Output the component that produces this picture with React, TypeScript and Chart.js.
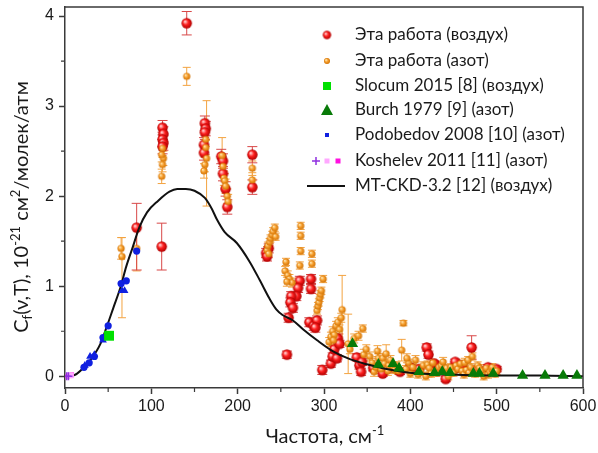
import { useEffect, useRef } from 'react';
import { Chart, registerables } from 'chart.js';
Chart.register(...registerables);

// ---------- axis ticks ----------
const xTicks = [0, 100, 200, 300, 400, 500, 600];
const xMinor = [50, 150, 250, 350, 450, 550];
const yTicks = [0, 1, 2, 3, 4];
const yMinor = [0.5, 1.5, 2.5, 3.5];

const xTitle = 'Частота, см';
const xTitleSup = '-1';

const legendLabels = [
  'Эта работа (воздух)',
  'Эта работа (азот)',
  'Slocum 2015 [8] (воздух)',
  'Burch 1979 [9] (азот)',
  'Podobedov 2008 [10] (азот)',
  'Koshelev 2011 [11] (азот)',
  'MT-CKD-3.2 [12] (воздух)',
];

// ---------- data: [frequency cm-1, Cf, error up, (error down)] ----------
const airWork: number[][] = [
  [83, 1.65, 0.27, 0.47], [112, 1.44, 0.26],
  [113, 2.76, 0.08], [114, 2.69, 0.08], [113, 2.63, 0.08], [114, 2.59, 0.08], [113, 2.55, 0.08],
  [141, 3.92, 0.13],
  [162, 2.81, 0.08], [163, 2.75, 0.08], [162, 2.71, 0.08], [161, 2.57, 0.08], [161, 2.48, 0.08],
  [181, 2.44, 0.08], [183, 2.39, 0.08], [183, 2.25, 0.08], [186, 2.08, 0.08], [188, 1.88, 0.08],
  [217, 2.46, 0.09], [217, 2.10, 0.08],
  [233, 1.37, 0.05], [234, 1.33, 0.05], [236, 1.42, 0.05],
  [257, 0.24, 0.04], [259, 0.65, 0.05],
  [272, 1.06, 0.05], [270, 0.98, 0.05], [268, 0.89, 0.05], [262, 0.89, 0.05], [261, 0.82, 0.05], [264, 0.76, 0.05],
  [285, 1.08, 0.05], [285, 0.97, 0.05],
  [283, 0.60, 0.05], [288, 0.56, 0.05], [292, 0.62, 0.05], [290, 0.54, 0.05],
  [298, 0.07, 0.05],
  [308, 0.14, 0.04], [310, 0.22, 0.04], [312, 0.30, 0.04], [316, 0.42, 0.05], [318, 0.36, 0.04], [315, 0.20, 0.04],
  [338, 0.21, 0.04], [341, 0.12, 0.04], [343, 0.05, 0.04], [344, 0.16, 0.04],
  [357, 0.09, 0.03], [368, 0.03, 0.03], [378, 0.10, 0.03], [388, 0.05, 0.03],
  [400, 0.10, 0.03], [410, 0.08, 0.03],
  [419, 0.32, 0.04], [421, 0.24, 0.04], [428, 0.14, 0.03], [432, 0.06, 0.03], [441, -0.03, 0.03],
  [452, 0.16, 0.03], [452, 0.09, 0.03], [460, 0.12, 0.03], [471, 0.32, 0.13], [478, 0.08, 0.03],
  [490, 0.10, 0.03], [500, 0.08, 0.03],
];

const nitrogenWork: number[][] = [
  [65, 1.42, 0.12], [66, 1.33, 0.21, 0.68], [83, 1.42, 0.25],
  [114, 2.42, 0.08], [113, 2.53, 0.08], [112, 2.46, 0.08], [113, 2.35, 0.08], [112, 2.22, 0.08],
  [141, 3.33, 0.10],
  [163, 2.63, 0.08], [163, 2.54, 0.08], [162, 2.35, 0.08], [161, 2.28, 0.08], [164, 2.42, 0.64, 0.53],
  [182, 2.45, 0.20], [183, 2.33, 0.08], [184, 2.20, 0.08], [185, 2.17, 0.08], [186, 2.11, 0.08], [188, 2.00, 0.08], [189, 1.94, 0.08],
  [217, 2.31, 0.08], [217, 2.18, 0.08],
  [234, 1.40, 0.04], [235, 1.45, 0.04], [237, 1.49, 0.04], [238, 1.53, 0.04], [240, 1.57, 0.04],
  [241, 1.61, 0.04], [243, 1.65, 0.04], [244, 1.55, 0.04], [236, 1.36, 0.04],
  [273, 1.67, 0.04], [273, 1.56, 0.04], [273, 1.39, 0.04],
  [256, 1.27, 0.04], [272, 1.23, 0.04], [286, 1.36, 0.04], [286, 1.25, 0.04], [299, 1.08, 0.04],
  [255, 1.17, 0.05], [258, 1.12, 0.05], [260, 1.08, 0.05], [263, 1.04, 0.05], [257, 1.05, 0.05],
  [292, 0.73, 0.04], [293, 0.78, 0.04], [294, 0.82, 0.04], [295, 0.87, 0.04], [296, 0.91, 0.04], [297, 0.95, 0.04],
  [306, 0.38, 0.05], [308, 0.44, 0.05], [310, 0.50, 0.05], [312, 0.46, 0.05], [314, 0.56, 0.05],
  [316, 0.60, 0.05], [318, 0.52, 0.05], [320, 0.65, 0.05], [311, 0.40, 0.05], [321, 0.74, 0.38],
  [328, 0.36, 0.33], [345, 0.53, 0.04], [335, 0.42, 0.05], [330, 0.30, 0.05],
  [340, 0.45, 0.05], [346, 0.24, 0.06], [349, 0.30, 0.05],
  [392, 0.59, 0.03], [390, 0.29, 0.12],
  [353, 0.22, 0.05], [356, 0.15, 0.05], [358, 0.05, 0.05], [360, 0.10, 0.05], [362, 0.28, 0.06],
  [363, 0.20, 0.05], [366, 0.08, 0.05], [368, 0.20, 0.05],
  [370, 0.14, 0.05], [374, 0.06, 0.05], [375, 0.12, 0.05], [377, 0.18, 0.05], [380, 0.11, 0.05],
  [372, 0.25, 0.10], [382, 0.07, 0.04],
  [384, 0.12, 0.04], [386, 0.06, 0.04], [395, 0.08, 0.04], [398, 0.15, 0.04], [400, 0.03, 0.04], [396, 0.20, 0.05],
  [403, 0.10, 0.04], [406, 0.18, 0.05], [409, 0.02, 0.04],
  [412, 0.05, 0.04], [415, 0.12, 0.04], [418, 0.00, 0.04], [420, 0.13, 0.04], [422, 0.09, 0.04],
  [424, 0.03, 0.04], [426, 0.15, 0.04], [430, 0.04, 0.04], [433, 0.10, 0.04],
  [436, 0.12, 0.04], [438, 0.16, 0.05], [440, 0.06, 0.04], [442, 0.09, 0.04], [444, 0.00, 0.04],
  [447, 0.10, 0.04], [450, 0.04, 0.04], [453, 0.12, 0.04],
  [455, 0.08, 0.04], [458, 0.14, 0.04], [460, 0.06, 0.04], [462, 0.02, 0.04], [463, 0.15, 0.05], [465, 0.07, 0.04],
  [467, 0.18, 0.04], [468, 0.04, 0.04], [470, 0.10, 0.04], [472, 0.22, 0.04], [475, 0.03, 0.04], [478, 0.12, 0.04],
  [480, 0.09, 0.04], [482, 0.06, 0.04], [485, 0.00, 0.04], [488, 0.09, 0.04], [490, 0.02, 0.04],
  [492, 0.05, 0.04], [494, 0.08, 0.04], [495, 0.10, 0.04],
  [498, 0.03, 0.04], [500, 0.06, 0.04],
];

const slocum: number[][] = [[51, 0.45]];

const burch: number[][] = [
  [333, 0.36], [363, 0.13], [380, 0.14], [387, 0.09], [410, 0.05], [428, 0.04], [437, 0.05],
  [446, 0.04], [473, 0.03], [480, 0.03], [496, 0.03], [530, 0.01], [556, 0.01], [577, 0.01], [593, 0.01],
];

const podobedovCircles: number[][] = [
  [22, 0.10], [28, 0.15], [34, 0.22], [44, 0.43], [50, 0.56], [65, 1.03], [71, 1.06], [83, 1.39],
];
const podobedovTriangles: number[][] = [
  [23, 0.12], [29, 0.22], [34, 0.24], [44, 0.40], [66, 0.95], [69, 0.95],
];

const koshelevPlus: number[][] = [[2, 0.0], [4, 0.0]];
const koshelevPink: number[][] = [[5, 0.01], [7, 0.01]];
const koshelevMagenta: number[][] = [[3, 0.0], [8, 0.02]];

const mtckd: number[][] = [
  [8, 0.0], [14, 0.03], [22, 0.1], [31, 0.2], [41, 0.36], [48, 0.54], [56, 0.76], [64, 0.98],
  [71, 1.22], [78, 1.42], [86, 1.65], [95, 1.82], [108, 1.95], [121, 2.05], [130, 2.08],
  [140, 2.08], [150, 2.06], [162, 1.98], [170, 1.86], [176, 1.74], [185, 1.6], [199, 1.48],
  [214, 1.27], [226, 1.06], [237, 0.86], [245, 0.74], [252, 0.68], [264, 0.62], [276, 0.52],
  [292, 0.4], [310, 0.28], [330, 0.19], [351, 0.13], [368, 0.09], [399, 0.04], [446, 0.02],
  [496, 0.01], [550, 0.01], [600, 0.0],
];

const toXY = (arr: number[][]) => arr.map((p) => ({ x: p[0], y: p[1] }));

function makeBall(r: number, hi: string, mid: string, edge: string) {
  const c = document.createElement('canvas');
  const s = Math.ceil(r * 2) + 2;
  c.width = s;
  c.height = s;
  const g = c.getContext('2d')!;
  const cx = s / 2, cy = s / 2;
  const grad = g.createRadialGradient(cx - r * 0.35, cy - r * 0.35, r * 0.1, cx, cy, r);
  grad.addColorStop(0, hi);
  grad.addColorStop(0.45, mid);
  grad.addColorStop(1, edge);
  g.fillStyle = grad;
  g.beginPath();
  g.arc(cx, cy, r, 0, Math.PI * 2);
  g.fill();
  return c;
}

const AXIS = '#3a3a3a';
const TEXT_FONT = 'Lato, "Open Sans", sans-serif';
const TICK_FONT = '"Liberation Sans", Arial, sans-serif';

function drawRich(ctx: CanvasRenderingContext2D, segs: { t: string; s: number }[], x: number, y: number, size: number) {
  const small = Math.round(size * 0.65);
  let total = 0;
  for (const sg of segs) {
    ctx.font = `${sg.s === 0 ? size : small}px ${TEXT_FONT}`;
    total += ctx.measureText(sg.t).width;
  }
  let cx = x - total / 2;
  for (const sg of segs) {
    ctx.font = `${sg.s === 0 ? size : small}px ${TEXT_FONT}`;
    const dy = sg.s === 1 ? -size * 0.38 : sg.s === -1 ? size * 0.22 : 0;
    ctx.fillText(sg.t, cx, y + dy);
    cx += ctx.measureText(sg.t).width;
  }
}

export default function App() {
  const ref = useRef<HTMLCanvasElement>(null);

  useEffect(() => {
    document.body.style.margin = '0';
    const redBall = makeBall(5.2, '#ffd0d0', '#ff2020', '#b00000');
    const orangeBall = makeBall(3.6, '#ffe6b0', '#f7a030', '#d07000');
    const redBallL = makeBall(4.2, '#ffd0d0', '#ff2020', '#b00000');
    const orangeBallL = makeBall(3, '#ffe6b0', '#f7a030', '#d07000');

    const errorBars = {
      id: 'errorBars',
      beforeDatasetsDraw(chart: any) {
        const { ctx, scales, chartArea } = chart;
        const xs = scales.x, ys = scales.y;
        ctx.save();
        ctx.beginPath();
        ctx.rect(chartArea.left, chartArea.top, chartArea.right - chartArea.left, chartArea.bottom - chartArea.top);
        ctx.clip();
        chart.data.datasets.forEach((ds: any) => {
          if (!ds.errUp) return;
          ctx.strokeStyle = ds.errorColor;
          ctx.lineWidth = 1;
          const cap = ds.capHalf;
          ds.data.forEach((p: any, i: number) => {
            const px = xs.getPixelForValue(p.x);
            const y1 = ys.getPixelForValue(p.y + ds.errUp[i]);
            const y2 = ys.getPixelForValue(p.y - ds.errDown[i]);
            ctx.beginPath();
            ctx.moveTo(px, y1);
            ctx.lineTo(px, y2);
            ctx.moveTo(px - cap, y1);
            ctx.lineTo(px + cap, y1);
            ctx.moveTo(px - cap, y2);
            ctx.lineTo(px + cap, y2);
            ctx.stroke();
          });
        });
        ctx.restore();
      },
    };

    const decor = {
      id: 'decor',
      afterDraw(chart: any) {
        const { ctx, chartArea, scales } = chart;
        const xs = scales.x, ys = scales.y;
        ctx.save();
        // frame top & right
        ctx.strokeStyle = AXIS;
        ctx.lineWidth = 1.5;
        ctx.beginPath();
        ctx.moveTo(chartArea.left, chartArea.top);
        ctx.lineTo(chartArea.right, chartArea.top);
        ctx.lineTo(chartArea.right, chartArea.bottom);
        ctx.stroke();
        // minor ticks
        ctx.lineWidth = 1.2;
        ctx.beginPath();
        for (const v of xMinor) {
          const px = xs.getPixelForValue(v);
          ctx.moveTo(px, chartArea.bottom);
          ctx.lineTo(px, chartArea.bottom + 4);
        }
        for (const v of yMinor) {
          const py = ys.getPixelForValue(v);
          ctx.moveTo(chartArea.left, py);
          ctx.lineTo(chartArea.left - 4, py);
        }
        ctx.stroke();

        // axis titles
        ctx.fillStyle = '#1a1a1a';
        ctx.textBaseline = 'alphabetic';
        ctx.textAlign = 'left';
        drawRich(ctx, [{ t: xTitle, s: 0 }, { t: xTitleSup, s: 1 }], 325, 443, 20);
        ctx.save();
        ctx.translate(28, 207);
        ctx.rotate(-Math.PI / 2);
        drawRich(
          ctx,
          [
            { t: 'C', s: 0 }, { t: 'f', s: -1 }, { t: '(ν,T), 10', s: 0 }, { t: '-21', s: 1 },
            { t: ' см', s: 0 }, { t: '2', s: 1 }, { t: '/молек/атм', s: 0 },
          ],
          0, 0, 20,
        );
        ctx.restore();

        // legend
        const symX = 327, textX = 355;
        const rows = [35, 61, 86, 110, 135, 161, 186];
        ctx.font = `17px ${TEXT_FONT}`;
        ctx.textBaseline = 'middle';
        ctx.fillStyle = '#1a1a1a';
        legendLabels.forEach((lab, i) => ctx.fillText(lab, textX, rows[i]));
        // symbols
        ctx.drawImage(redBallL, symX - redBallL.width / 2, rows[0] - redBallL.height / 2);
        ctx.drawImage(orangeBallL, symX - orangeBallL.width / 2, rows[1] - orangeBallL.height / 2);
        ctx.fillStyle = '#00e000';
        ctx.fillRect(symX - 4, rows[2] - 4, 8, 8);
        ctx.fillStyle = '#087a08';
        ctx.beginPath();
        ctx.moveTo(symX, rows[3] - 6);
        ctx.lineTo(symX + 6, rows[3] + 5);
        ctx.lineTo(symX - 6, rows[3] + 5);
        ctx.closePath();
        ctx.fill();
        ctx.fillStyle = '#1020e0';
        ctx.fillRect(symX - 2, rows[4] - 2, 4, 4);
        ctx.strokeStyle = '#9030e0';
        ctx.lineWidth = 1.5;
        ctx.beginPath();
        ctx.moveTo(316 - 4, rows[5]);
        ctx.lineTo(316 + 4, rows[5]);
        ctx.moveTo(316, rows[5] - 4);
        ctx.lineTo(316, rows[5] + 4);
        ctx.stroke();
        ctx.fillStyle = '#ffa8ff';
        ctx.fillRect(327 - 2.5, rows[5] - 2.5, 5, 5);
        ctx.fillStyle = '#ff10e0';
        ctx.fillRect(338 - 2.5, rows[5] - 2.5, 5, 5);
        ctx.strokeStyle = '#111';
        ctx.lineWidth = 1.8;
        ctx.beginPath();
        ctx.moveTo(307, rows[6]);
        ctx.lineTo(345, rows[6]);
        ctx.stroke();
        ctx.restore();
      },
    };

    const chart = new Chart(ref.current!, {
      type: 'scatter',
      data: {
        datasets: [
          {
            label: 'MT-CKD-3.2 [12] (воздух)',
            type: 'line',
            data: toXY(mtckd),
            borderColor: '#111',
            borderWidth: 2,
            pointRadius: 0,
            showLine: true,
            cubicInterpolationMode: 'monotone',
            order: 1,
          } as any,
          {
            label: 'Burch 1979 [9] (азот)',
            data: toXY(burch),
            pointStyle: 'triangle',
            pointRadius: 6.5,
            backgroundColor: '#087a08',
            borderColor: '#087a08',
            borderWidth: 0,
            order: 0,
          },
          {
            label: 'Slocum 2015 [8] (воздух)',
            data: toXY(slocum),
            pointStyle: 'rect',
            pointRadius: 7,
            backgroundColor: '#00e000',
            borderWidth: 0,
            order: 0,
          },
          {
            label: 'Podobedov circles',
            data: toXY(podobedovCircles),
            pointStyle: 'circle',
            pointRadius: 3.6,
            backgroundColor: '#1020e0',
            borderWidth: 0,
            order: 0,
          },
          {
            label: 'Podobedov triangles',
            data: toXY(podobedovTriangles),
            pointStyle: 'triangle',
            pointRadius: 4.5,
            backgroundColor: '#1020e0',
            borderWidth: 0,
            order: 0,
          },
          {
            label: 'Koshelev plus',
            data: toXY(koshelevPlus),
            pointStyle: 'cross',
            pointRadius: 4,
            borderColor: '#9030e0',
            borderWidth: 1.5,
            order: 0,
          },
          {
            label: 'Koshelev pink',
            data: toXY(koshelevPink),
            pointStyle: 'rect',
            pointRadius: 4,
            backgroundColor: '#ffa8ff',
            borderWidth: 0,
            order: 0,
          },
          {
            label: 'Koshelev magenta',
            data: toXY(koshelevMagenta),
            pointStyle: 'rect',
            pointRadius: 3,
            backgroundColor: '#ff10e0',
            borderWidth: 0,
            order: 0,
          },
          {
            label: 'Эта работа (азот)',
            data: toXY(nitrogenWork),
            errUp: nitrogenWork.map((p) => p[2]),
            errDown: nitrogenWork.map((p) => (p.length > 3 ? p[3] : p[2])),
            errorColor: '#f3a340',
            capHalf: 4,
            pointStyle: orangeBall,
            order: 2,
          } as any,
          {
            label: 'Эта работа (воздух)',
            data: toXY(airWork),
            errUp: airWork.map((p) => p[2]),
            errDown: airWork.map((p) => (p.length > 3 ? p[3] : p[2])),
            errorColor: '#d84848',
            capHalf: 5,
            pointStyle: redBall,
            order: 3,
          } as any,
        ],
      },
      options: {
        animation: false,
        responsive: false,
        layout: { padding: { top: 5, right: 15, left: 0, bottom: 0 } },
        plugins: { legend: { display: false }, tooltip: { enabled: false } },
        scales: {
          x: {
            type: 'linear',
            min: 0,
            max: 600,
            afterBuildTicks: (s: any) => { s.ticks = xTicks.map((v) => ({ value: v })); },
            afterFit: (s: any) => { s.height = 65; s.paddingLeft = 0; s.paddingRight = 0; },
            grid: { drawOnChartArea: false, drawTicks: true, tickLength: 6, color: AXIS, tickWidth: 1.5 },
            border: { display: true, color: AXIS, width: 1.5 },
            ticks: { color: '#1a1a1a', font: { size: 16, family: TICK_FONT }, padding: 3, maxRotation: 0 },
          },
          y: {
            type: 'linear',
            min: -0.13,
            max: 4.1,
            afterBuildTicks: (s: any) => { s.ticks = yTicks.map((v) => ({ value: v })); },
            afterFit: (s: any) => { s.width = 65; s.paddingTop = 0; s.paddingBottom = 0; },
            grid: { drawOnChartArea: false, drawTicks: true, tickLength: 6, color: AXIS, tickWidth: 1.5 },
            border: { display: true, color: AXIS, width: 1.5 },
            ticks: { color: '#1a1a1a', font: { size: 16, family: TICK_FONT }, padding: 5 },
          },
        },
      } as any,
      plugins: [errorBars, decor],
    });
    return () => chart.destroy();
  }, []);

  return (
    <div style={{ position: 'fixed', left: 0, top: 0, width: 598, height: 453, background: '#fff' }}>
      <canvas ref={ref} width={598} height={453} style={{ width: 598, height: 453 }} />
    </div>
  );
}
